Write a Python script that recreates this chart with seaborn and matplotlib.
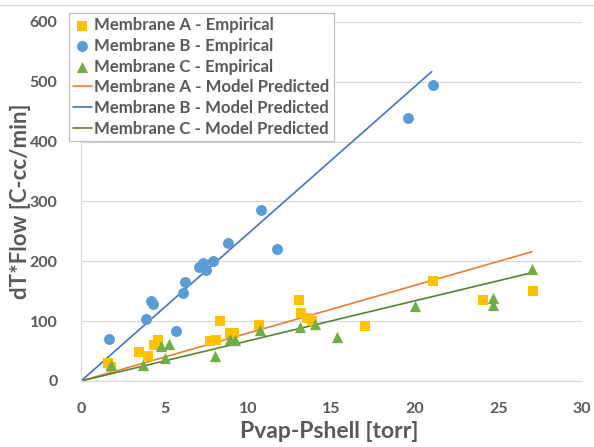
import matplotlib
matplotlib.use("Agg")
import matplotlib.pyplot as plt
from matplotlib.lines import Line2D
import seaborn as sns
import pandas as pd

# Empirical measurements: pressure difference [torr] vs dT*Flow [C-cc/min]
a_x = [1.6, 1.8, 3.45, 4.0, 4.35, 4.6, 7.7, 8.1, 8.3, 8.9, 9.15, 10.65,
       13.05, 13.15, 13.55, 13.85, 17.0, 21.1, 24.05, 27.05]
a_y = [30, 23, 49, 42, 60, 69, 67, 69, 100, 80, 80, 93,
       136, 114, 105, 101, 92, 167, 136, 150]

b_x = [1.7, 3.9, 4.2, 4.3, 5.7, 6.1, 6.2, 7.05, 7.3, 7.3, 7.5, 7.9,
       8.8, 10.8, 11.75, 19.6, 21.05]
b_y = [70, 104, 133, 129, 83, 147, 165, 190, 198, 193, 186, 201,
       230, 285, 220, 439, 495]

c_x = [1.8, 3.7, 4.8, 5.25, 5.0, 8.05, 8.9, 9.2, 10.7, 13.1, 14.0,
       15.35, 20.0, 24.65, 24.7, 27.0]
c_y = [27, 27, 59, 62, 38, 41, 70, 68, 85, 90, 96,
       73, 126, 127, 139, 187]

# Model predicted (linear through origin)
a_model_x = [0, 27]
a_model_y = [0, 216]
b_model_x = [0, 21]
b_model_y = [0, 517]
c_model_x = [0, 27]
c_model_y = [0, 181]

x_ticks = [0, 5, 10, 15, 20, 25, 30]
y_ticks = [0, 100, 200, 300, 400, 500, 600]

sns.set_theme(style="white")
plt.rcParams["font.family"] = ["Lato", "DejaVu Sans"]
plt.rcParams["font.weight"] = "bold"

text_color = "#595959"
grid_color = "#D9D9D9"

fig = plt.figure(figsize=(5.94, 4.47), dpi=100)
W, H = 594, 447
ax = fig.add_axes([81 / W, 1 - 381 / H, (582 - 81) / W, (381 - 22) / H])

emp = [
    ("Membrane A - Empirical", a_x, a_y, "#FFC000", "s", 52),
    ("Membrane B - Empirical", b_x, b_y, "#5B9BD5", "o", 62),
    ("Membrane C - Empirical", c_x, c_y, "#70AD47", "^", 66),
]
mod = [
    ("Membrane A - Model Predicted", a_model_x, a_model_y, "#ED7D31"),
    ("Membrane B - Model Predicted", b_model_x, b_model_y, "#4472C4"),
    ("Membrane C - Model Predicted", c_model_x, c_model_y, "#548235"),
]

for label, xs, ys, col, mk, size in emp:
    df = pd.DataFrame({"x": xs, "y": ys})
    sns.scatterplot(data=df, x="x", y="y", ax=ax, color=col, marker=mk,
                    s=size, linewidth=0, label=label, zorder=3)

for label, xs, ys, col in mod:
    df = pd.DataFrame({"x": xs, "y": ys})
    sns.lineplot(data=df, x="x", y="y", ax=ax, color=col, linewidth=1.2,
                 label=label, zorder=2)

ax.set_xlim(0, 30)
ax.set_ylim(0, 600)
ax.set_xticks(x_ticks)
ax.set_yticks(y_ticks)
ax.set_xticklabels([str(v) for v in x_ticks])
ax.set_yticklabels([str(v) for v in y_ticks])
ax.yaxis.grid(True, color=grid_color, linewidth=0.9)
ax.xaxis.grid(False)
ax.set_axisbelow(True)

for side in ["top", "right"]:
    ax.spines[side].set_visible(False)
for side in ["left", "bottom"]:
    ax.spines[side].set_color(grid_color)
    ax.spines[side].set_linewidth(0.9)

ax.tick_params(axis="both", length=0, labelsize=11.5, labelcolor=text_color)
ax.tick_params(axis="y", pad=17)
ax.tick_params(axis="x", pad=15)
for t in ax.get_xticklabels() + ax.get_yticklabels():
    t.set_fontweight("bold")

ax.set_xlabel("Pvap-Pshell [torr]", fontsize=16.5, fontweight="bold",
              color=text_color)
ax.set_ylabel("dT*Flow [C-cc/min]", fontsize=16, fontweight="bold",
              color=text_color)
ax.xaxis.set_label_coords((329 - 81) / (582 - 81), -(431 - 381) / (381 - 22))
ax.yaxis.set_label_coords(-(81 - 21) / (582 - 81), 0.5)
ax.xaxis.label.set_va("center")
ax.yaxis.label.set_va("center")

handles, labels = ax.get_legend_handles_labels()
leg = ax.legend(handles, labels, loc="upper left",
                bbox_to_anchor=(69 / W, 1 - 13 / H),
                bbox_transform=fig.transFigure,
                frameon=True, fancybox=False, framealpha=1,
                edgecolor="#BFBFBF", fontsize=12.1,
                handlelength=1.1, handletextpad=0.15,
                labelspacing=0.28, borderpad=0.25, borderaxespad=0)
leg.get_frame().set_linewidth(0.9)
for t in leg.get_texts():
    t.set_color(text_color)
    t.set_fontweight("bold")

# thin border across the top of the chart area
fig.add_artist(Line2D([0, 1], [1 - 5 / H, 1 - 5 / H], transform=fig.transFigure,
                      color=grid_color, linewidth=0.9))

fig.savefig("out.png", dpi=100, facecolor="white")
